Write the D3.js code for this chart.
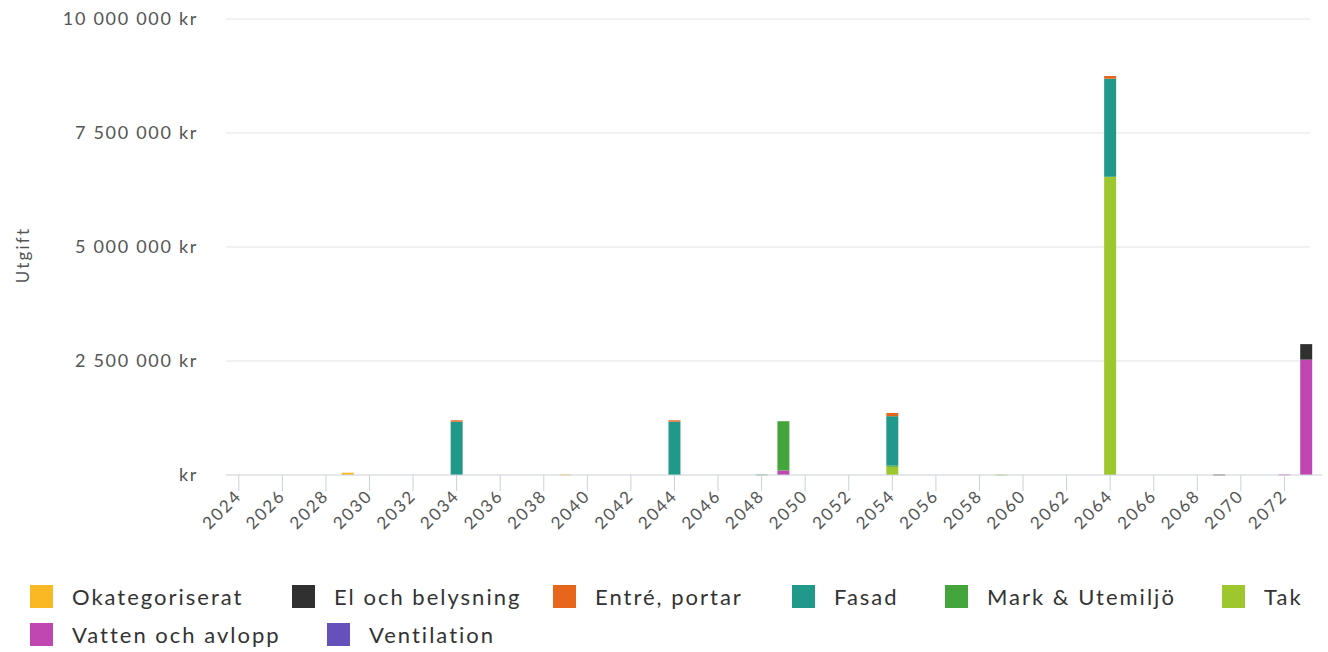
<!DOCTYPE html>
<html>
<head>
<meta charset="utf-8">
<script src="https://cdn.jsdelivr.net/npm/d3@7"></script>
<style>
  body { margin: 0; background: #fff; }
  svg text { font-family: Lato, "Noto Sans", sans-serif; fill: #555; }
</style>
</head>
<body>
<svg id="chart" width="1328" height="652"></svg>
<script>
// years on the x axis
const years = d3.range(2024, 2074);
const tickYears = d3.range(2024, 2074, 2);
const yTicks = [0, 2500000, 5000000, 7500000, 10000000];

// categories in legend order
const categories = ['Okategoriserat', 'El och belysning', 'Entré, portar', 'Fasad',
  'Mark & Utemiljö', 'Tak', 'Vatten och avlopp', 'Ventilation'];
const colors = ['#fbb825', '#303030', '#e8661c', '#21998a', '#44a53c', '#9ec62d', '#c046b1', '#6651bb'];

// values per category as [year, kr]
const okategoriserat = [[2029, 50000], [2039, 12000]];
const elOchBelysning = [[2073, 340000], [2069, 10000]];
const entrePortar = [[2034, 30000], [2044, 30000], [2054, 70000], [2064, 60000]];
const fasad = [[2034, 1170000], [2044, 1170000], [2054, 1080000], [2064, 2150000]];
const markUtemiljo = [[2049, 1080000], [2054, 30000], [2048, 10000]];
const tak = [[2054, 180000], [2064, 6540000], [2059, 10000]];
const vattenOchAvlopp = [[2049, 100000], [2073, 2530000], [2072, 12000]];
const ventilation = [];

const seriesData = [okategoriserat, elOchBelysning, entrePortar, fasad,
  markUtemiljo, tak, vattenOchAvlopp, ventilation];

// build a table: one row per year
const table = years.map(y => {
  const row = { year: y };
  categories.forEach((c, i) => {
    const hit = seriesData[i].find(d => d[0] === y);
    row[c] = hit ? hit[1] : 0;
  });
  return row;
});

const svg = d3.select('#chart');

const x = d3.scaleBand().domain(years).range([223, 1322]).padding(0.45);
const y = d3.scaleLinear().domain([0, 10000000]).range([475, 19]);

// gridlines
svg.append('g')
  .selectAll('line')
  .data(yTicks.filter(d => d > 0))
  .join('line')
  .attr('x1', 226).attr('x2', 1310)
  .attr('y1', d => y(d)).attr('y2', d => y(d))
  .attr('stroke', '#e3e3e3').attr('stroke-width', 1);

// y tick labels
const fmt = v => v === 0 ? 'kr' : d3.format(',')(v).replace(/,/g, ' ') + ' kr';
svg.append('g')
  .selectAll('text')
  .data(yTicks)
  .join('text')
  .attr('x', 198)
  .attr('y', d => y(d) + 6)
  .attr('text-anchor', 'end')
  .style('font-size', '18px')
  .style('letter-spacing', '1.7px')
  .text(fmt);

// y axis title
svg.append('text')
  .attr('transform', 'translate(29,255) rotate(-90)')
  .attr('text-anchor', 'middle')
  .style('font-size', '17px')
  .style('letter-spacing', '2.2px')
  .text('Utgift');

// stacked bars, bottom series is the last in the legend
const stack = d3.stack().keys(categories.slice().reverse());
const stacked = stack(table);

svg.append('g')
  .selectAll('g')
  .data(stacked)
  .join('g')
  .attr('fill', d => colors[categories.indexOf(d.key)])
  .selectAll('rect')
  .data(d => d.filter(p => p[1] - p[0] > 0))
  .join('rect')
  .attr('x', d => x(d.data.year))
  .attr('width', x.bandwidth())
  .attr('y', d => y(d[1]))
  .attr('height', d => Math.max(y(d[0]) - y(d[1]), 0.8));

// x axis baseline and ticks
svg.append('line')
  .attr('x1', 226).attr('x2', 1322)
  .attr('y1', y(0)).attr('y2', y(0))
  .attr('stroke', '#c9d2da').attr('stroke-width', 1.2);

const xg = svg.append('g');
xg.selectAll('line')
  .data(tickYears)
  .join('line')
  .attr('x1', d => x(d) + x.bandwidth() / 2)
  .attr('x2', d => x(d) + x.bandwidth() / 2)
  .attr('y1', y(0)).attr('y2', y(0) + 16)
  .attr('stroke', '#c9d2da');

xg.selectAll('text')
  .data(tickYears)
  .join('text')
  .attr('transform', d => `translate(${x(d) + x.bandwidth() / 2 + 4},${y(0) + 22}) rotate(-45)`)
  .attr('text-anchor', 'end')
  .style('font-size', '17px')
  .style('letter-spacing', '1.9px')
  .text(d => d);

// legend
const legendPos = [[30, 597], [292, 597], [553, 597], [792, 597], [945, 597], [1222, 597], [30, 635], [327, 635]];
const legend = svg.append('g')
  .selectAll('g')
  .data(categories)
  .join('g')
  .attr('transform', (d, i) => `translate(${legendPos[i][0]},${legendPos[i][1]})`);

legend.append('rect')
  .attr('x', 0).attr('y', -12)
  .attr('width', 23).attr('height', 23)
  .attr('fill', (d, i) => colors[i]);

legend.append('text')
  .attr('x', 42).attr('y', 8)
  .style('font-size', '22px')
  .style('fill', '#333')
  .style('letter-spacing', '2px')
  .text(d => d);
</script>
</body>
</html>
